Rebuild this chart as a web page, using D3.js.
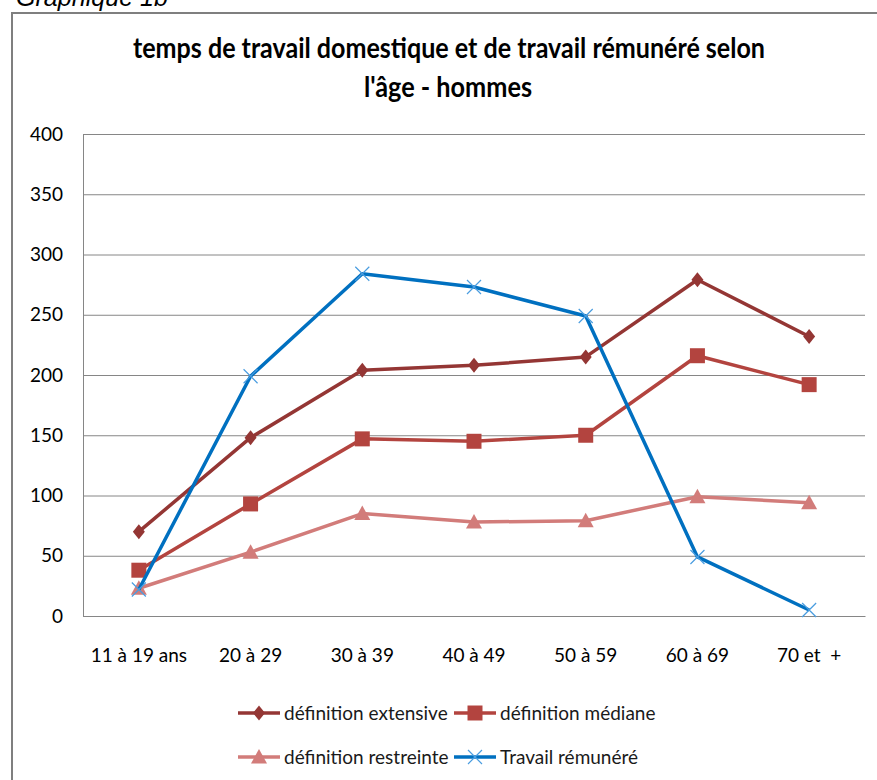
<!DOCTYPE html>
<html>
<head>
<meta charset="utf-8">
<script src="https://cdn.jsdelivr.net/npm/d3@7"></script>
<style>
  body { margin: 0; background: #fff; }
  svg text { white-space: pre; }
</style>
</head>
<body>
<svg id="chart"></svg>
<script>
const categories = ["11 à 19 ans", "20 à 29", "30 à 39", "40 à 49", "50 à 59", "60 à 69", "70 et  +"];
const yTicks = [0, 50, 100, 150, 200, 250, 300, 350, 400];

const seriesNames = ["définition extensive", "définition médiane", "définition restreinte", "Travail rémunéré"];
const extensive = [70, 148, 204, 208, 215, 279, 232];
const mediane = [38, 93, 147, 145, 150, 216, 192];
const restreinte = [23, 53, 85, 78, 79, 99, 94];
const remunere = [22, 199, 284, 273, 249, 49, 5];

const colors = ["#943634", "#b3443f", "#d27c7a", "#0070c0"];
const markers = ["diamond", "square", "triangle", "cross"];

const width = 877;
const height = 780;
const margin = {top: 134, left: 83, bottom: 164, right: 12};
const iwidth = width - margin.left - margin.right;
const iheight = height - margin.top - margin.bottom;

const svg = d3.select("#chart").attr("width", width).attr("height", height);

// cadre + sur-titre
svg.append("rect")
  .attr("x", 12).attr("y", 13)
  .attr("width", 900).attr("height", 800)
  .attr("fill", "none").attr("stroke", "#7f7f7f").attr("stroke-width", 2);

svg.append("text")
  .attr("x", 16).attr("y", 6)
  .attr("textLength", 152).attr("lengthAdjust", "spacingAndGlyphs")
  .style("font-family", "'Liberation Sans', Arial, sans-serif")
  .style("font-style", "italic").style("font-size", "25px")
  .text("Graphique 1b");

const title = svg.append("g")
  .style("font-family", "Lato, sans-serif")
  .style("font-weight", "bold").style("font-size", "29px")
  .attr("fill", "#000");
title.append("text").attr("x", 449).attr("y", 58).attr("text-anchor", "middle")
  .attr("textLength", 632).attr("lengthAdjust", "spacingAndGlyphs")
  .text("temps de travail domestique et de travail rémunéré selon");
title.append("text").attr("x", 448).attr("y", 97).attr("text-anchor", "middle")
  .attr("textLength", 168).attr("lengthAdjust", "spacingAndGlyphs")
  .text("l'âge - hommes");

const g = svg.append("g").attr("transform", `translate(${margin.left},${margin.top})`);

const y = d3.scaleLinear().domain([0, 400]).range([iheight, 0]);
const x = d3.scaleBand().domain(categories).range([0, iwidth]).padding(0);

// axe y + grille
const yAxis = g.append("g")
  .call(d3.axisLeft(y).tickValues(yTicks).tickSize(-iwidth).tickPadding(20));
yAxis.select(".domain").attr("stroke", "#868686");
yAxis.selectAll(".tick line").attr("stroke", "#868686");
yAxis.selectAll(".tick text")
  .style("font-family", "Lato, sans-serif").style("font-size", "19px")
  .attr("fill", "#000");

// axe x
const xAxis = g.append("g")
  .attr("transform", `translate(0,${iheight})`)
  .call(d3.axisBottom(x).tickSize(0).tickSizeOuter(0));
xAxis.select(".domain").attr("stroke", "#868686");
xAxis.selectAll(".tick text")
  .attr("y", 46).attr("dy", null)
  .style("font-family", "Lato, sans-serif").style("font-size", "19px")
  .attr("fill", "#000");

const seriesData = [extensive, mediane, restreinte, remunere];

const markerPath = (type) => {
  if (type === "diamond") return "M0,-7.5L6,0L0,7.5L-6,0Z";
  if (type === "square") return "M-7.5,-7.5H7.5V7.5H-7.5Z";
  if (type === "triangle") return "M0,-8L8,6.5H-8Z";
  return "M-7,-7L7,7M-7,7L7,-7";
};

const drawMarker = (sel, type, color) => {
  sel.append("path")
    .attr("d", markerPath(type))
    .attr("fill", type === "cross" ? "none" : color)
    .attr("stroke", type === "cross" ? "#4a9de0" : "none")
    .attr("stroke-width", 1.2);
};

const line = d3.line()
  .x((d, i) => x(categories[i]) + x.bandwidth() / 2)
  .y(d => y(d));

seriesData.forEach((vals, s) => {
  const sg = g.append("g");
  sg.append("path")
    .datum(vals)
    .attr("d", line)
    .attr("fill", "none")
    .attr("stroke", colors[s])
    .attr("stroke-width", 3.5)
    .attr("stroke-linejoin", "round");
  vals.forEach((v, i) => {
    const m = sg.append("g")
      .attr("transform", `translate(${x(categories[i]) + x.bandwidth() / 2},${y(v)})`);
    drawMarker(m, markers[s], colors[s]);
  });
});

// légende
const legendPos = [[238, 713], [454, 713], [238, 757], [454, 757]];
seriesNames.forEach((name, s) => {
  const lg = svg.append("g").attr("transform", `translate(${legendPos[s][0]},${legendPos[s][1]})`);
  lg.append("line")
    .attr("x1", 0).attr("x2", 42)
    .attr("stroke", colors[s]).attr("stroke-width", 3.5);
  drawMarker(lg.append("g").attr("transform", "translate(21,0)"), markers[s], colors[s]);
  lg.append("text")
    .attr("x", 46).attr("y", 6.5)
    .style("font-family", "Lato, sans-serif").style("font-size", "19px")
    .attr("fill", "#1a1a1a")
    .text(name);
});
</script>
</body>
</html>
